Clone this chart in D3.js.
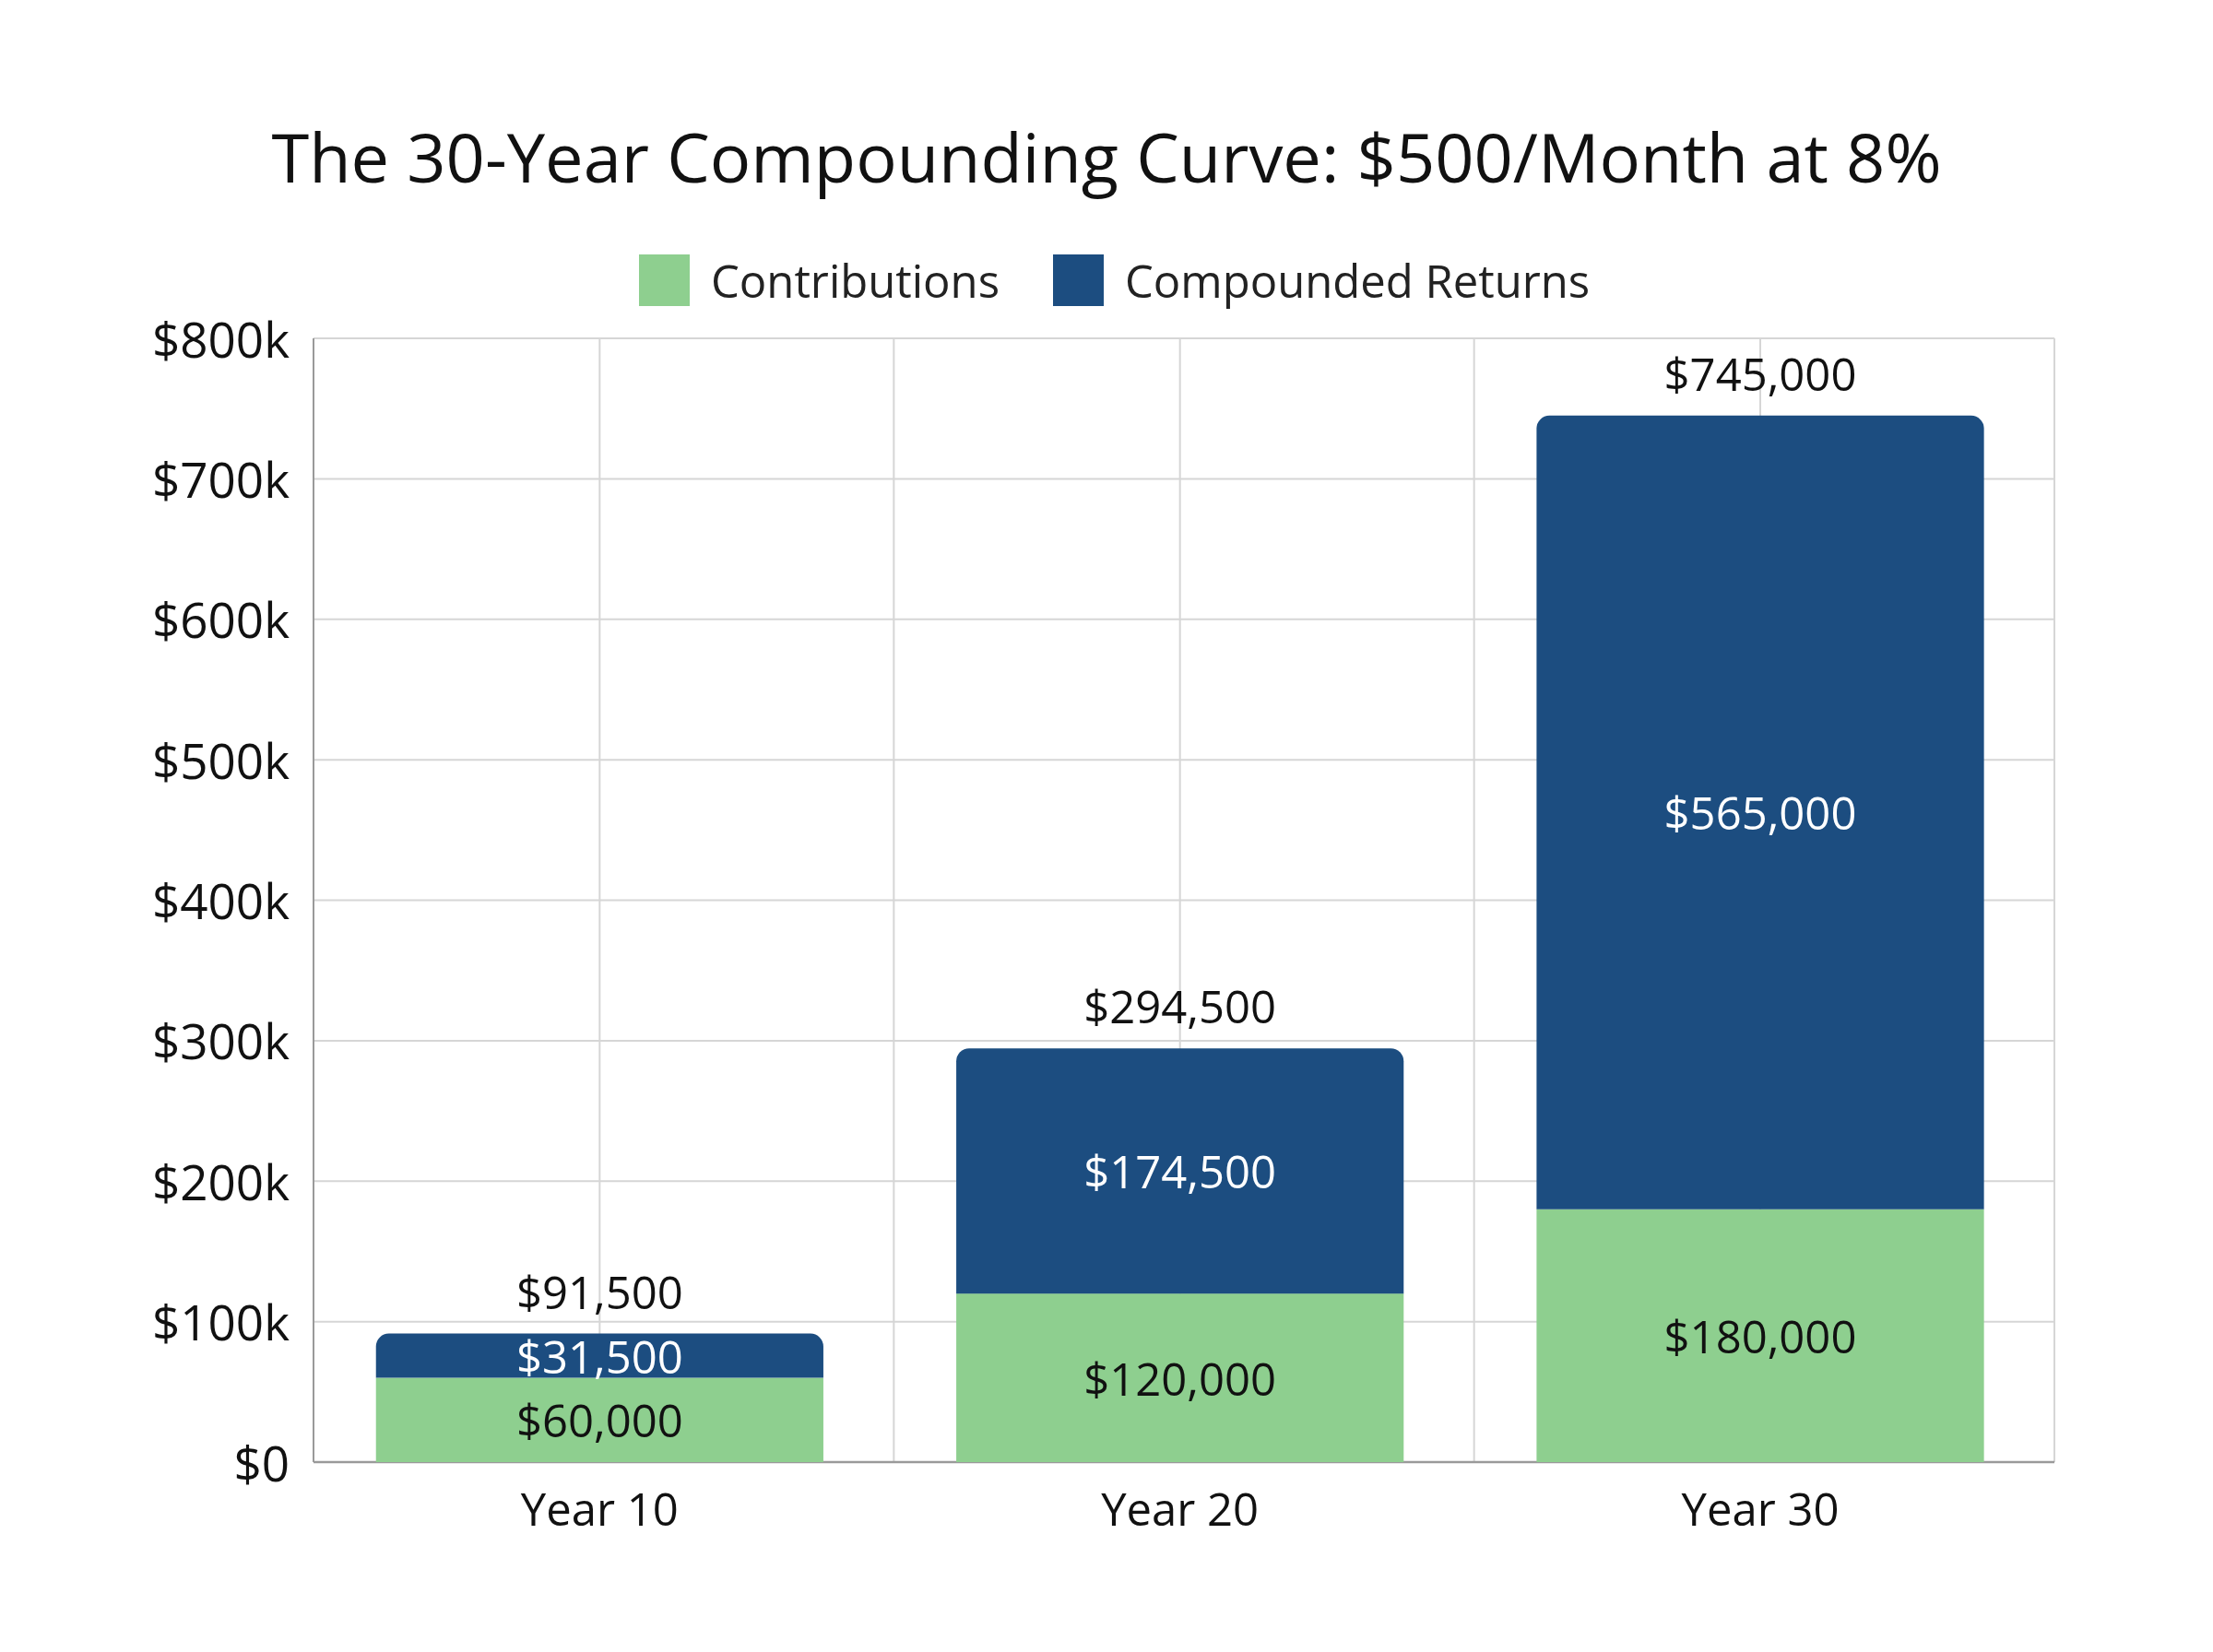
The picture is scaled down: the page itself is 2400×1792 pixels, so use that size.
<!DOCTYPE html>
<html>
<head>
<meta charset="utf-8">
<script src="https://cdn.jsdelivr.net/npm/d3@7/dist/d3.min.js"></script>
<style>
  html, body { margin: 0; padding: 0; background: #ffffff; }
  svg { display: block; }
  text { font-family: "Open Sans", "Noto Sans", sans-serif; }
</style>
</head>
<body>
<svg id="chart" width="2400" height="1792"></svg>
<script>
const categories = ["Year 10", "Year 20", "Year 30"];
const contributions = [60000, 120000, 180000];
const returns = [31500, 174500, 565000];
const totals = [91500, 294500, 745000];
const seriesNames = ["Contributions", "Compounded Returns"];
const yTicks = [0, 100000, 200000, 300000, 400000, 500000, 600000, 700000, 800000];
const yTickLabels = ["$0", "$100k", "$200k", "$300k", "$400k", "$500k", "$600k", "$700k", "$800k"];
const titleText = "The 30-Year Compounding Curve: $500/Month at 8%";

const colors = { contrib: "#8ecf8f", returns: "#1c4d80" };
const m = { left: 340, right: 2228, top: 367, bottom: 1586 };

const svg = d3.select("#chart");
const fmt = d3.format("$,");

const x = d3.scaleBand().domain(categories).range([m.left, m.right])
  .paddingInner(0.229).paddingOuter(0.1145).align(0.47);
const y = d3.scaleLinear().domain([0, 800000]).range([m.bottom, m.top]);
const bw = x.bandwidth();
const cx = c => x(c) + bw / 2;

// Grid
const grid = svg.append("g");
grid.selectAll("line.h").data(yTicks).join("line")
  .attr("x1", m.left).attr("x2", m.right)
  .attr("y1", d => y(d)).attr("y2", d => y(d))
  .attr("stroke", "#d6d6d6").attr("stroke-width", 2);
const step = (m.right - m.left) / categories.length;
const vLines = [];
categories.forEach((c, i) => {
  vLines.push(m.left + i * step, cx(c));
});
vLines.push(m.right);
grid.selectAll("line.v").data(vLines).join("line")
  .attr("x1", d => d).attr("x2", d => d)
  .attr("y1", m.top).attr("y2", m.bottom)
  .attr("stroke", "#d6d6d6").attr("stroke-width", 2);

// axis lines
svg.append("line").attr("x1", m.left).attr("x2", m.left)
  .attr("y1", m.top).attr("y2", m.bottom).attr("stroke", "#9a9a9a").attr("stroke-width", 2);
svg.append("line").attr("x1", m.left).attr("x2", m.right)
  .attr("y1", m.bottom).attr("y2", m.bottom).attr("stroke", "#9a9a9a").attr("stroke-width", 2.5);

// Y axis labels
svg.append("g").selectAll("text").data(yTicks).join("text")
  .attr("x", 314).attr("y", d => y(d))
  .attr("text-anchor", "end").attr("dominant-baseline", "central")
  .attr("font-size", 53).attr("fill", "#111")
  .text((d, i) => yTickLabels[i]);

// X axis labels
svg.append("g").selectAll("text").data(categories).join("text")
  .attr("x", cx).attr("y", 1655)
  .attr("text-anchor", "middle").attr("font-size", 49).attr("fill", "#111")
  .text(d => d);

// Bars
const r = 14;
const bars = svg.append("g");
categories.forEach((c, i) => {
  const x0 = x(c);
  bars.append("rect")
    .attr("x", x0).attr("width", bw)
    .attr("y", y(contributions[i])).attr("height", y(0) - y(contributions[i]))
    .attr("fill", colors.contrib);
  const yb = y(contributions[i]);
  const yt = y(contributions[i] + returns[i]);
  const p = d3.path();
  p.moveTo(x0, yb);
  p.lineTo(x0, yt + r);
  p.arcTo(x0, yt, x0 + r, yt, r);
  p.lineTo(x0 + bw - r, yt);
  p.arcTo(x0 + bw, yt, x0 + bw, yt + r, r);
  p.lineTo(x0 + bw, yb);
  p.closePath();
  bars.append("path").attr("d", p.toString()).attr("fill", colors.returns);
});

// Labels
svg.append("g").selectAll("text").data(categories).join("text")
  .attr("x", cx).attr("y", (d, i) => y(contributions[i] / 2))
  .attr("text-anchor", "middle").attr("dominant-baseline", "central")
  .attr("font-size", 49).attr("fill", "#111")
  .text((d, i) => fmt(contributions[i]));
svg.append("g").selectAll("text").data(categories).join("text")
  .attr("x", cx).attr("y", (d, i) => y(contributions[i] + returns[i] / 2))
  .attr("text-anchor", "middle").attr("dominant-baseline", "central")
  .attr("font-size", 49).attr("fill", "#ffffff")
  .text((d, i) => fmt(returns[i]));
svg.append("g").selectAll("text").data(categories).join("text")
  .attr("x", cx).attr("y", (d, i) => y(totals[i]) - 27)
  .attr("text-anchor", "middle")
  .attr("font-size", 49).attr("fill", "#111")
  .text((d, i) => fmt(totals[i]));

// Title
svg.append("text").attr("x", 1200).attr("y", 198)
  .attr("text-anchor", "middle").attr("font-size", 74).attr("fill", "#111")
  .text(titleText);

// Legend
const legend = svg.append("g");
const legendItems = [
  { name: seriesNames[0], color: colors.contrib, x: 693 },
  { name: seriesNames[1], color: colors.returns, x: 1142 }
];
legendItems.forEach(it => {
  legend.append("rect").attr("x", it.x).attr("y", 276).attr("width", 55).attr("height", 56)
    .attr("fill", it.color);
  legend.append("text").attr("x", it.x + 78).attr("y", 304)
    .attr("dominant-baseline", "central").attr("font-size", 49).attr("fill", "#222")
    .text(it.name);
});
</script>
</body>
</html>
